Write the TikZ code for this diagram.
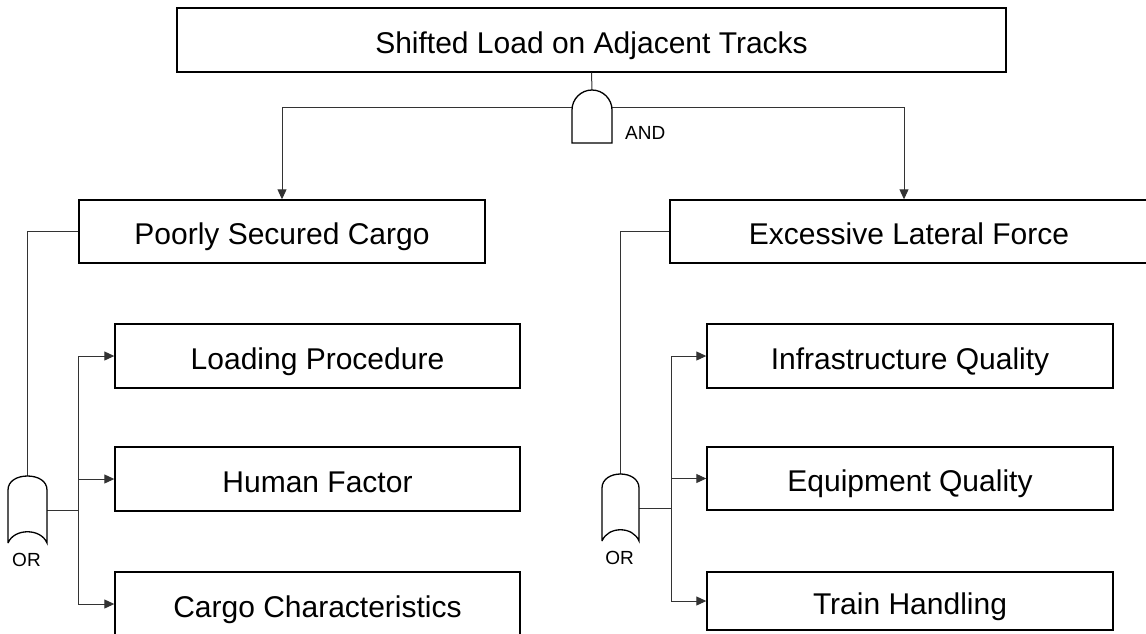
\documentclass[tikz,border=0pt]{standalone}
\usepackage{fontspec}
\setmainfont{Liberation Sans}
\usetikzlibrary{arrows.meta}

\tikzset{
  event/.style={draw=black, line width=1.4pt, fill=white, inner sep=0pt,
    text height=26pt, text depth=0pt,
    font=\fontsize{30}{36}\selectfont},
  gate/.style={draw=black, line width=1.3pt, fill=white},
  wire/.style={draw=black!80, line width=1pt},
  arr/.style={wire, -{Triangle[length=10pt,width=9pt]}},
  gatelabel/.style={inner sep=0pt, font=\fontsize{19}{22}\selectfont}
}

\begin{document}
\begin{tikzpicture}[x=1pt, y=-1pt]
  \useasboundingbox (0,0) rectangle (1146,633);
  \clip (0,0) rectangle (1146,633);

  % events
  \node[event, minimum width=829pt, minimum height=64pt] (top) at (591.5,40) {Shifted Load on Adjacent Tracks};
  \node[event, minimum width=406pt, minimum height=63pt] (pscargo) at (282,231.5) {Poorly Secured Cargo};
  \node[event, minimum width=478pt, minimum height=63pt] (elforce) at (909,231.5) {Excessive Lateral Force};

  \node[event, minimum width=405pt, minimum height=64pt] (loading) at (317.5,356) {Loading Procedure};
  \node[event, minimum width=405pt, minimum height=64pt] (human) at (317.5,479) {Human Factor};
  \node[event, minimum width=405pt, minimum height=64pt] (cargo) at (317.5,604) {Cargo Characteristics};

  \node[event, minimum width=406pt, minimum height=64pt] (infra) at (910,356) {Infrastructure Quality};
  \node[event, minimum width=406pt, minimum height=63pt] (equip) at (910,478.5) {Equipment Quality};
  \node[event, minimum width=406pt, minimum height=58pt] (train) at (910,601) {Train Handling};

  % AND gate anchors
  \coordinate (and-top) at (592,90);
  \coordinate (and-l) at (572,107);
  \coordinate (and-r) at (612,107);

  % AND gate wiring
  \draw[wire] (top.south) -- (and-top);
  \draw[arr] (and-l) -| (pscargo.north);
  \draw[arr] (and-r) -| ([xshift=-5pt]elforce.north);

  % AND gate body
  \draw[gate] (572,143) -- (572,110)
    .. controls (572,99) and (581,90) .. (592,90)
    .. controls (603,90) and (612,99) .. (612,110) -- (612,143) -- cycle;
  \node[gatelabel, anchor=west] (andlbl) at (625,133) {AND};

  % left OR gate anchors
  \coordinate (orL-top) at (27.5,476);
  \coordinate (orL-out) at (47,510);
  \coordinate (busL) at (78,510);

  \draw[wire] (pscargo.west) -| (orL-top);
  \draw[wire] (orL-out) -- (busL);
  \draw[arr] (busL) |- (loading.west);
  \draw[arr] (busL) |- (human.west);
  \draw[arr] (busL) |- (cargo.west);

  \draw[gate] (8,543) -- (8,490)
    .. controls (8,481) and (17,476) .. (27.5,476)
    .. controls (38,476) and (47,481) .. (47,490) -- (47,543)
    .. controls (41,528) and (14,528) .. (8,543);
  \node[gatelabel] (orLlbl) at (26.5,560) {OR};

  % right OR gate anchors
  \coordinate (orR-top) at (620.5,474);
  \coordinate (orR-out) at (639,508);
  \coordinate (busR) at (671,508);

  \draw[wire] (elforce.west) -| (orR-top);
  \draw[wire] (orR-out) -- (busR);
  \draw[arr] (busR) |- (infra.west);
  \draw[arr] (busR) |- (equip.west);
  \draw[arr] (busR) |- (train.west);

  \draw[gate] (602,541) -- (602,488)
    .. controls (602,479) and (611,474) .. (620.5,474)
    .. controls (630,474) and (639,479) .. (639,488) -- (639,541)
    .. controls (633,526) and (608,526) .. (602,541);
  \node[gatelabel] (orRlbl) at (619.5,558) {OR};
\end{tikzpicture}
\end{document}
